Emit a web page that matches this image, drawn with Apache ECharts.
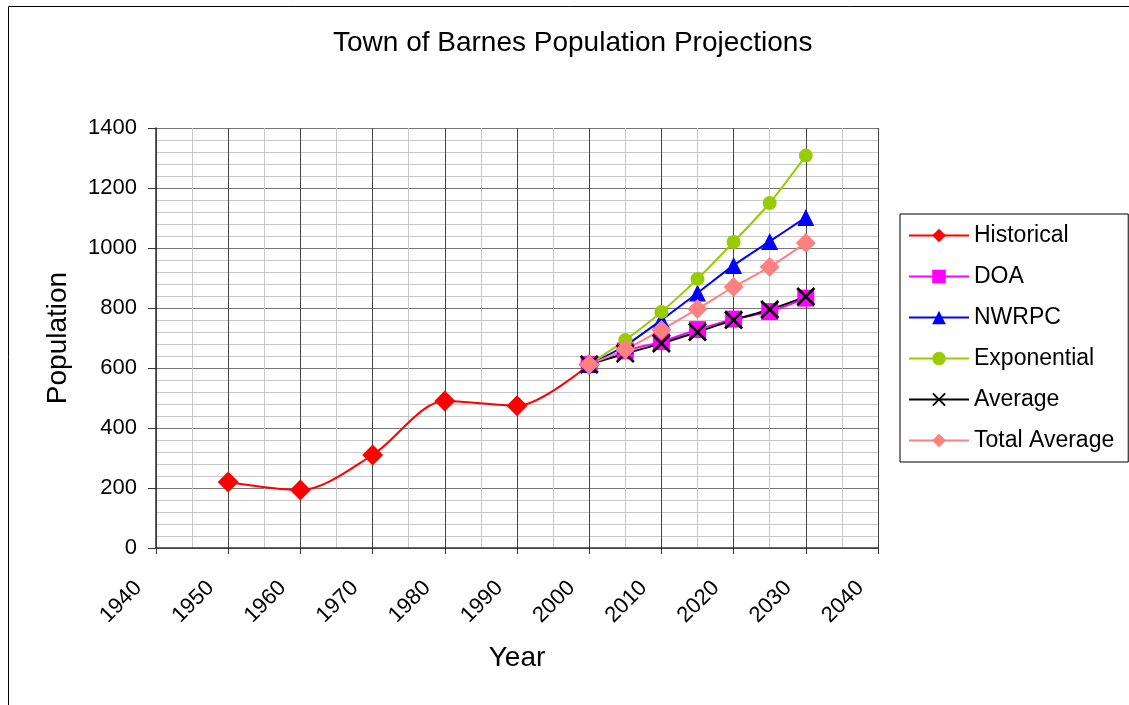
<!DOCTYPE html>
<html>
<head>
<meta charset="utf-8">
<script src="https://cdn.jsdelivr.net/npm/echarts@6/dist/echarts.min.js"></script>
<style>
  html, body { margin: 0; padding: 0; background: #fff; }
  #chart { width: 1129px; height: 705px; }
</style>
</head>
<body>
<div id="chart"></div>
<script>
// historical census counts
const histYears = [1950, 1960, 1970, 1980, 1990, 2000];
const historical = [220, 193, 310, 490, 474, 612];

// projections, every 5 years
const projYears = [2000, 2005, 2010, 2015, 2020, 2025, 2030];
const doa = [612, 657, 688, 728, 763, 788, 833];
const nwrpc = [612, 675, 760, 850, 942, 1022, 1102];
const exponential = [612, 693, 787, 897, 1020, 1150, 1308];
const average = [612, 648, 682, 720, 760, 795, 838];
const totalAverage = [612, 662, 727, 797, 870, 937, 1017];

const yTicks = [0, 200, 400, 600, 800, 1000, 1200, 1400];

const font = 'Liberation Sans, Arial, sans-serif';
const xMark = 'path://M0,2L2,0L10,8L18,0L20,2L12,10L20,18L18,20L10,12L2,20L0,18L8,10Z';

function pairs(xs, ys) {
  return xs.map((x, i) => [x, ys[i]]);
}

function line(name, xs, ys, color, symbol, size) {
  return {
    name: name,
    type: 'line',
    data: pairs(xs, ys),
    smooth: 0.3,
    symbol: symbol,
    symbolSize: size,
    showAllSymbol: true,
    lineStyle: { color: color, width: 2 },
    itemStyle: { color: color },
    emphasis: { disabled: true }
  };
}

const chart = echarts.init(document.getElementById('chart'));

chart.setOption({
  backgroundColor: '#fff',
  animation: false,
  textStyle: { fontFamily: font },
  graphic: [{
    type: 'rect',
    left: 6, top: 4,
    shape: { width: 1140, height: 720 },
    style: { fill: 'none', stroke: '#000', lineWidth: 1 },
    silent: true
  }],
  title: {
    text: 'Town of Barnes Population Projections',
    left: 328,
    top: 24,
    textStyle: { fontFamily: font, fontSize: 28, fontWeight: 'normal', color: '#000' }
  },
  legend: {
    orient: 'vertical',
    left: 900,
    top: 214,
    padding: [10, 14, 10, 8],
    itemWidth: 60,
    itemHeight: 17,
    itemGap: 18,
    borderColor: '#000',
    borderWidth: 1,
    textStyle: { fontFamily: font, fontSize: 23, color: '#000' },
    data: ['Historical', 'DOA', 'NWRPC', 'Exponential', 'Average', 'Total Average']
  },
  grid: { left: 156, right: 251, top: 128, bottom: 157 },
  xAxis: {
    type: 'value',
    min: 1940,
    max: 2040,
    interval: 10,
    name: 'Year',
    nameLocation: 'middle',
    nameGap: 96,
    nameTextStyle: { fontFamily: font, fontSize: 28, color: '#000' },
    axisLine: { onZero: false, lineStyle: { color: '#333', width: 1.5 } },
    axisTick: { show: true, inside: false, length: 6, lineStyle: { color: '#333' } },
    axisLabel: {
      rotate: 45, fontSize: 22, color: '#000', margin: 19, fontFamily: font,
      padding: [0, 25, 0, 0],
      formatter: v => String(v)
    },
    splitLine: { show: true, lineStyle: { color: '#444', width: 1 } },
    minorTick: { show: false, splitNumber: 2 },
    minorSplitLine: { show: true, lineStyle: { color: '#c8c8c8', width: 1 } }
  },
  yAxis: {
    type: 'value',
    min: 0,
    max: 1400,
    interval: 200,
    name: 'Population',
    nameLocation: 'middle',
    nameGap: 84,
    nameTextStyle: { fontFamily: font, fontSize: 28, color: '#000' },
    axisLine: { show: true, lineStyle: { color: '#333', width: 1.5 } },
    axisTick: { show: true, inside: false, length: 8, lineStyle: { color: '#333' } },
    axisLabel: {
      fontSize: 22, color: '#000', margin: 19, fontFamily: font,
      formatter: v => yTicks.includes(v) ? String(v) : ''
    },
    splitLine: { show: true, lineStyle: { color: '#777', width: 1 } },
    minorTick: { show: false, splitNumber: 5 },
    minorSplitLine: { show: true, lineStyle: { color: '#c8c8c8', width: 1 } }
  },
  series: [
    line('Historical', histYears, historical, '#ff0000', 'diamond', 21),
    line('DOA', projYears, doa, '#ff00ff', 'rect', 17),
    line('NWRPC', projYears, nwrpc, '#0000ff', 'triangle', 17),
    line('Exponential', projYears, exponential, '#99cc00', 'circle', 14),
    line('Average', projYears, average, '#000000', xMark, 19),
    line('Total Average', projYears, totalAverage, '#ff8080', 'diamond', 20)
  ]
});
</script>
</body>
</html>
